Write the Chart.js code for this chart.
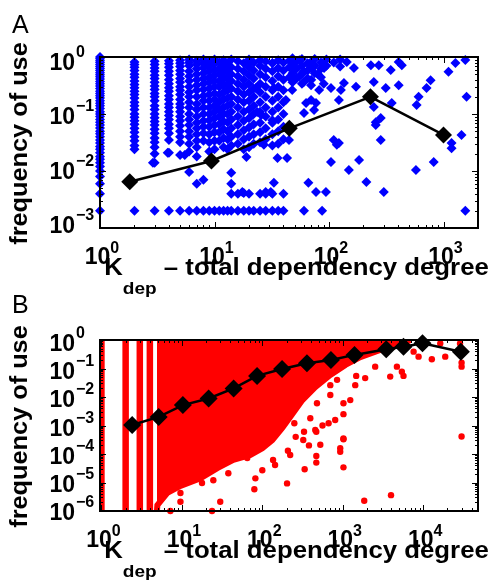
<!DOCTYPE html>
<html>
<head>
<meta charset="utf-8">
<script src="https://cdn.jsdelivr.net/npm/chart.js@4.4.0/dist/chart.umd.min.js"></script>
<style>
  html, body { margin: 0; padding: 0; background: #fff; }
  canvas { position: absolute; left: 0; }
  #chartA { top: 0; }
  #chartB { top: 290px; }
</style>
</head>
<body>
<canvas id="chartA" width="492" height="305"></canvas>
<canvas id="chartB" width="492" height="293"></canvas>
<script>
// ---------- Panel A data ----------
// dense columns of blue diamonds (K value, list of frequencies)
const blueColK = [1, 2, 3, 4, 5, 6, 7, 8, 9, 10, 11, 12, 13, 14, 16, 18, 20, 22, 25, 28, 32, 36, 40,
  48, 52, 58, 65, 75, 85, 95, 110, 125];
const blueColF = [
  [1, 0.93, 0.86, 0.8, 0.74, 0.68, 0.63, 0.58, 0.53, 0.49, 0.45, 0.41, 0.37, 0.34, 0.31, 0.28, 0.25, 0.23, 0.21, 0.19, 0.17, 0.155, 0.14, 0.125, 0.11, 0.1, 0.09, 0.08, 0.072, 0.064, 0.057, 0.05, 0.045, 0.04, 0.035, 0.031, 0.027, 0.024, 0.021, 0.018, 0.016, 0.014, 0.012, 0.01, 0.008, 0.006, 0.004, 0.002],
  [0.82, 0.74, 0.66, 0.58, 0.5, 0.44, 0.38, 0.33, 0.29, 0.25, 0.22, 0.19, 0.16, 0.14, 0.12, 0.1, 0.088, 0.076, 0.066, 0.056, 0.048, 0.04, 0.034, 0.028, 0.024, 0.002],
  [0.84, 0.74, 0.64, 0.56, 0.48, 0.42, 0.36, 0.31, 0.27, 0.23, 0.2, 0.17, 0.14, 0.12, 0.1, 0.086, 0.074, 0.064, 0.054, 0.046, 0.038, 0.032, 0.026, 0.02, 0.014, 0.002],
  [0.86, 0.76, 0.66, 0.56, 0.48, 0.4, 0.34, 0.29, 0.25, 0.21, 0.18, 0.15, 0.13, 0.11, 0.094, 0.08, 0.066, 0.056, 0.046, 0.035, 0.021, 0.002],
  [0.88, 0.78, 0.68, 0.58, 0.5, 0.42, 0.36, 0.3, 0.26, 0.22, 0.18, 0.15, 0.13, 0.11, 0.09, 0.076, 0.062, 0.05, 0.04, 0.032, 0.019, 0.002],
  [0.9, 0.8, 0.7, 0.56, 0.46, 0.38, 0.3, 0.24, 0.2, 0.16, 0.13, 0.1, 0.08, 0.064, 0.05, 0.04, 0.03, 0.022, 0.0096, 0.002],
  [0.86, 0.74, 0.62, 0.5, 0.4, 0.32, 0.26, 0.2, 0.15, 0.12, 0.09, 0.07, 0.056, 0.044, 0.034, 0.026, 0.018, 0.006, 0.002],
  [0.9, 0.78, 0.64, 0.52, 0.42, 0.34, 0.27, 0.21, 0.17, 0.13, 0.1, 0.076, 0.06, 0.046, 0.034, 0.007, 0.002],
  [0.84, 0.7, 0.56, 0.44, 0.36, 0.28, 0.22, 0.17, 0.13, 0.1, 0.078, 0.06, 0.044, 0.032, 0.022, 0.002],
  [0.9, 0.76, 0.6, 0.48, 0.38, 0.3, 0.23, 0.18, 0.14, 0.11, 0.084, 0.064, 0.048, 0.034, 0.024, 0.002],
  [0.8, 0.62, 0.5, 0.38, 0.3, 0.22, 0.16, 0.12, 0.09, 0.066, 0.048, 0.034, 0.002],
  [0.88, 0.7, 0.54, 0.42, 0.32, 0.24, 0.18, 0.13, 0.1, 0.074, 0.054, 0.038, 0.026, 0.002],
  [0.76, 0.58, 0.44, 0.34, 0.26, 0.19, 0.14, 0.1, 0.072, 0.05, 0.036, 0.024, 0.002],
  [0.9, 0.66, 0.5, 0.38, 0.28, 0.2, 0.15, 0.11, 0.08, 0.056, 0.04, 0.028, 0.0093, 0.006, 0.004, 0.002],
  [0.84, 0.62, 0.46, 0.34, 0.25, 0.18, 0.13, 0.09, 0.064, 0.044, 0.03, 0.004, 0.002],
  [0.78, 0.56, 0.4, 0.3, 0.22, 0.16, 0.11, 0.076, 0.052, 0.036, 0.024, 0.0041, 0.002],
  [0.9, 0.66, 0.48, 0.34, 0.24, 0.17, 0.12, 0.084, 0.058, 0.04, 0.026, 0.004, 0.002],
  [0.8, 0.58, 0.42, 0.28, 0.2, 0.14, 0.1, 0.066, 0.044, 0.03, 0.002],
  [0.88, 0.7, 0.5, 0.34, 0.24, 0.16, 0.11, 0.07, 0.048, 0.032, 0.004, 0.002],
  [0.84, 0.62, 0.44, 0.3, 0.2, 0.13, 0.09, 0.056, 0.036, 0.004, 0.002],
  [0.78, 0.56, 0.38, 0.26, 0.17, 0.11, 0.07, 0.044, 0.028, 0.004, 0.002],
  [0.88, 0.64, 0.46, 0.3, 0.2, 0.13, 0.08, 0.05, 0.03, 0.002],
  [0.8, 0.58, 0.4, 0.26, 0.16, 0.1, 0.06, 0.036, 0.004, 0.002],
  [0.95, 0.72, 0.52, 0.36],
  [0.84, 0.62, 0.42],
  [0.92, 0.7, 0.5, 0.34],
  [0.78, 0.58, 0.42],
  [0.92, 0.7, 0.52],
  [0.8, 0.62, 0.44],
  [0.9, 0.7],
  [0.8],
  [0.9, 0.68]
];
// scattered blue diamonds
const blueK = [45, 45, 45, 50, 50, 55, 55, 60, 60, 70, 70, 80, 90, 20, 32, 49.6, 69.7, 90.5, 143, 165, 232, 272, 346, 406, 432, 1105, 1270, 1550,
  771, 711, 606, 582, 406, 313, 246, 172, 127, 135, 104, 82, 69.7, 63, 69.7, 77, 74, 60.5, 122, 353, 246, 256, 283, 256, 283, 1590, 1435, 1175,
  42, 32, 47.7, 47.7, 33, 23, 23.6, 25.6, 44.7, 110, 117, 27, 35.5, 43, 19, 122, 183, 149, 212, 301, 574, 821, 1175, 104,
  33, 28, 31, 17.5, 66, 77, 94, 60.5, 87, 1550, 2.9, 3.9, 5.5];
const blueF = [0.86, 0.66, 0.44, 0.8, 0.6, 0.88, 0.46, 0.56, 0.36, 0.64, 0.4, 0.5, 0.34, 0.785, 0.785, 0.82, 0.82, 0.64, 0.82, 0.64, 0.72, 0.72, 0.59, 0.82, 0.72, 0.55, 0.785, 0.886,
  0.39, 0.286, 0.2, 0.144, 0.32, 0.286, 0.364, 0.3, 0.264, 0.35, 0.286, 0.264, 0.32, 0.156, 0.176, 0.156, 0.117, 0.104, 0.176, 0.156, 0.133, 0.072, 0.085, 0.064, 0.035, 0.2, 0.043, 0.031,
  0.176, 0.078, 0.264, 0.446, 0.286, 0.286, 0.108, 0.096, 0.035, 0.035, 0.029, 0.029, 0.0169, 0.0169, 0.0176, 0.031, 0.0156, 0.0104, 0.0064, 0.0043, 0.0104, 0.0144, 0.025, 0.0144,
  0.0062, 0.0043, 0.0043, 0.0043, 0.0062, 0.0043, 0.0043, 0.002, 0.002, 0.002, 0.014, 0.021, 0.019];
// binned average (black line)
const meanAK = [1.82, 9.4, 45, 230, 1000];
const meanAF = [0.0065, 0.015, 0.056, 0.2, 0.043];

// ---------- Panel B data ----------
// columns of red dots at small K that run over the whole frequency range
const stripeK = [1, 2, 3, 4];
const stripeF = [1e-6, 1];
// lower edge of the solid red cloud (filled up to frequency 1)
const cloudK = [4.9, 4.96, 6.6, 9.6, 17, 27.6, 43.6, 71, 100, 133, 177, 235, 315, 455, 700, 1080, 1650, 2920, 5180, 6900];
const cloudF = [1e-6, 1.6e-6, 4.3e-6, 7.6e-6, 1.4e-5, 3.2e-5, 6.2e-5, 9.2e-5, 1.6e-4, 3.1e-4, 8.2e-4, 2.5e-3, 7.8e-3, 0.022, 0.059, 0.133, 0.25, 0.45, 0.67, 1];
// scattered red dots
const redK = [7.2, 23.7, 9.6, 9.6, 17.8, 30, 24.6, 37.8, 65,
  30000, 1020, 930, 1020, 469, 469, 336, 203, 136, 208, 79.6, 1850, 3980, 323, 330, 469,
  16300, 28700, 12800, 18800, 30000, 30000, 2530, 3890, 5430, 5690, 7600, 8760, 1470, 4710, 1020, 1020, 395, 667, 455, 1020,
  193, 203, 296, 478, 132, 700, 850, 395,
  100, 144, 222, 82, 526, 805, 1240, 700, 1430, 1900, 930, 260, 380, 560, 250];
const redF = [1e-6, 1e-6, 4.3e-6, 2.1e-6, 9.6e-6, 2.1e-6, 1.2e-5, 2.1e-5, 7.2e-5,
  4.1e-4, 3.3e-4, 1.6e-4, 3.4e-5, 8.5e-5, 5e-5, 2.9e-5, 9.3e-6, 6.2e-5, 1.3e-4, 5.8e-6, 2.3e-6, 3.6e-6, 3.1e-4, 6e-4, 6e-4,
  0.76, 0.76, 0.21, 0.26, 0.116, 0.16, 0.116, 0.052, 0.077, 0.055, 0.39, 0.26, 0.055, 0.116, 6e-3, 2.5e-3, 1.8e-3, 1.2e-3, 7e-4, 3.5e-4,
  3e-3, 4.6e-3, 7.9e-3, 6e-3, 9e-4, 0.026, 0.04, 0.018,
  2.7e-5, 4.1e-5, 9.2e-5, 1.4e-5, 2.1e-4, 1.56e-3, 7.8e-3, 0.0118, 0.026, 0.046, 1.2e-4, 4e-4, 2e-4, 1e-3, 1.2e-3];
// binned average (black line)
const meanBK = [2.41, 5.15, 10.3, 21.5, 44, 86, 176, 359, 713, 1400, 3470, 5690, 9800, 29400];
const meanBF = [1.04e-3, 2.0e-3, 5.2e-3, 8.9e-3, 0.02, 0.055, 0.096, 0.152, 0.199, 0.3, 0.47, 0.58, 0.77, 0.39];

// tick exponents
const xExpA = [0, 1, 2, 3];
const yExpA = [0, -1, -2, -3];
const xExpB = [0, 1, 2, 3, 4];
const yExpB = [0, -1, -2, -3, -4, -5, -6];

const FONT = "'Liberation Sans', Arial, Helvetica, sans-serif";

function pts(ks, fs) {
  return ks.map((k, i) => ({ x: k, y: fs[i] }));
}

function supText(e) {
  return e < 0 ? "\u2212" + (-e) : String(e);
}

// MATLAB-like box, inward ticks, 10^n labels and axis titles
const matlabAxes = {
  id: "matlabAxes",
  afterDraw(chart, args, opts) {
    const ctx = chart.ctx;
    const { left, right, top, bottom } = chart.chartArea;
    const xs = chart.scales.x, ys = chart.scales.y;
    ctx.save();
    ctx.strokeStyle = "#000";
    ctx.fillStyle = "#000";

    // ticks
    ctx.lineWidth = 1;
    const mults = [1, 2, 3, 4, 5, 6, 7, 8, 9];
    for (let e = -7; e <= 5; e++) {
      mults.forEach(m => {
        const v = m * Math.pow(10, e);
        const len = m === 1 ? 6 : 3;
        if (v >= xs.min && v <= xs.max) {
          const px = Math.round(xs.getPixelForValue(v)) + 0.5;
          ctx.beginPath();
          ctx.moveTo(px, bottom); ctx.lineTo(px, bottom - len);
          ctx.moveTo(px, top); ctx.lineTo(px, top + len);
          ctx.stroke();
        }
        if (v >= ys.min && v <= ys.max) {
          const py = Math.round(ys.getPixelForValue(v)) + 0.5;
          ctx.beginPath();
          ctx.moveTo(left, py); ctx.lineTo(left + len, py);
          ctx.moveTo(right, py); ctx.lineTo(right - len, py);
          ctx.stroke();
        }
      });
    }

    // box
    ctx.lineWidth = 2;
    ctx.strokeRect(left, top, right - left, bottom - top);

    // x tick labels
    const big = "bold 23px " + FONT, small = "bold 16px " + FONT;
    ctx.textBaseline = "alphabetic";
    ctx.textAlign = "left";
    opts.xExp.forEach(e => {
      const px = xs.getPixelForValue(Math.pow(10, e));
      ctx.font = big;
      const w1 = ctx.measureText("10").width;
      ctx.font = small;
      const w2 = ctx.measureText(supText(e)).width;
      const x0 = px + 2 - (w1 + w2) / 2;
      const by = bottom + 36;
      ctx.font = big;
      ctx.fillText("10", x0, by);
      ctx.font = small;
      ctx.fillText(supText(e), x0 + w1, by - 11);
    });

    // y tick labels (shift drifts slightly from top label to bottom label)
    const n = opts.yExp.length;
    opts.yExp.forEach((e, i) => {
      const py = ys.getPixelForValue(Math.pow(10, e));
      const shift = opts.yShift[0] + (opts.yShift[1] - opts.yShift[0]) * i / (n - 1);
      const by = py + shift + 8;
      ctx.font = big;
      ctx.textAlign = "right";
      ctx.fillText("10", left - 25, by);
      ctx.font = small;
      ctx.textAlign = "left";
      ctx.fillText(supText(e), left - 24, by - 13);
    });

    // y title (slightly widened, like the original lettering)
    ctx.save();
    ctx.font = "bold 23px " + FONT;
    ctx.textAlign = "center";
    ctx.translate(27, (top + bottom) / 2 + 1);
    ctx.rotate(-Math.PI / 2);
    ctx.scale(1.1, 1);
    ctx.fillText("frequency of use", 0, 0);
    ctx.restore();

    // x title with subscript
    const stretch = 1.12;
    const fMain = "bold 23px " + FONT, fSub = "bold 17px " + FONT;
    const rest = " \u2013 total dependency degree";
    ctx.textAlign = "left";
    ctx.font = fMain;
    const wK = ctx.measureText("K").width;
    const wR = ctx.measureText(rest).width;
    ctx.font = fSub;
    const wD = ctx.measureText("dep").width;
    const total = (wK + wD + wR) * stretch;
    const sx = (left + right) / 2 + 7.5 - total / 2;
    const ty = bottom + 47;
    ctx.save();
    ctx.translate(sx, ty);
    ctx.scale(stretch, 1);
    ctx.font = fMain;
    ctx.fillText("K", 0, 0);
    ctx.font = fSub;
    ctx.fillText("dep", wK, 18.5);
    ctx.font = fMain;
    ctx.fillText(rest, wK + wD, 0);
    ctx.restore();

    // panel letter
    ctx.font = "25px " + FONT;
    ctx.fillText(opts.letter, 12, opts.letterY);
    ctx.restore();
  }
};

function baseOptions(padding, xMin, xMax, yMin, yMax, axesOpts) {
  return {
    responsive: false,
    animation: false,
    layout: { padding: padding },
    scales: {
      x: { type: "logarithmic", min: xMin, max: xMax, display: false, bounds: "data" },
      y: { type: "logarithmic", min: yMin, max: yMax, display: false, bounds: "data" }
    },
    plugins: {
      legend: { display: false },
      tooltip: { enabled: false },
      matlabAxes: axesOpts
    }
  };
}

// ---------- Chart A ----------
const blueData = [];
blueColK.forEach((k, i) => blueColF[i].forEach(f => blueData.push({ x: k, y: f })));
pts(blueK, blueF).forEach(p => blueData.push(p));

new Chart(document.getElementById("chartA"), {
  type: "scatter",
  data: {
    datasets: [
      {
        label: "mean",
        data: pts(meanAK, meanAF),
        showLine: true,
        borderColor: "#000",
        borderWidth: 2.5,
        pointStyle: "rectRot",
        pointRadius: 8.5,
        pointBackgroundColor: "#000",
        pointBorderWidth: 0,
        clip: false
      },
      {
        label: "modules",
        data: blueData,
        pointStyle: "rectRot",
        pointRadius: 5,
        pointBackgroundColor: "#0000ff",
        pointBorderWidth: 0,
        clip: false
      }
    ]
  },
  options: baseOptions({ left: 100, right: 14, top: 57, bottom: 77 }, 1, 2000, 0.001, 1,
    { xExp: xExpA, yExp: yExpA, yShift: [5, -3], letter: "A", letterY: 33 }),
  plugins: [matlabAxes]
});

// ---------- Chart B ----------
const stripeSets = stripeK.map(k => ({
  type: "line",
  data: stripeF.map(f => ({ x: k, y: f })),
  borderColor: "#ff0000",
  borderWidth: 6.5,
  borderCapStyle: "round",
  pointRadius: 0,
  fill: false
}));

new Chart(document.getElementById("chartB"), {
  type: "scatter",
  data: {
    datasets: [
      {
        label: "mean",
        data: pts(meanBK, meanBF),
        showLine: true,
        borderColor: "#000",
        borderWidth: 2.5,
        pointStyle: "rectRot",
        pointRadius: 9,
        pointBackgroundColor: "#000",
        pointBorderWidth: 0,
        clip: false
      },
      {
        label: "packages",
        data: pts(redK, redF),
        pointStyle: "circle",
        pointRadius: 3.2,
        pointBackgroundColor: "#ff0000",
        pointBorderWidth: 0,
        clip: false
      },
      ...stripeSets,
      {
        type: "line",
        label: "cloud",
        data: pts(cloudK, cloudF),
        borderColor: "#ff0000",
        borderWidth: 6,
        backgroundColor: "#ff0000",
        fill: "end",
        pointRadius: 0,
        tension: 0
      }
    ]
  },
  options: baseOptions({ left: 100, right: 14, top: 50, bottom: 72 }, 0.96, 48000, 1e-6, 1,
    { xExp: xExpB, yExp: yExpB, yShift: [3, 1], letter: "B", letterY: 23 }),
  plugins: [matlabAxes]
});
</script>
</body>
</html>
